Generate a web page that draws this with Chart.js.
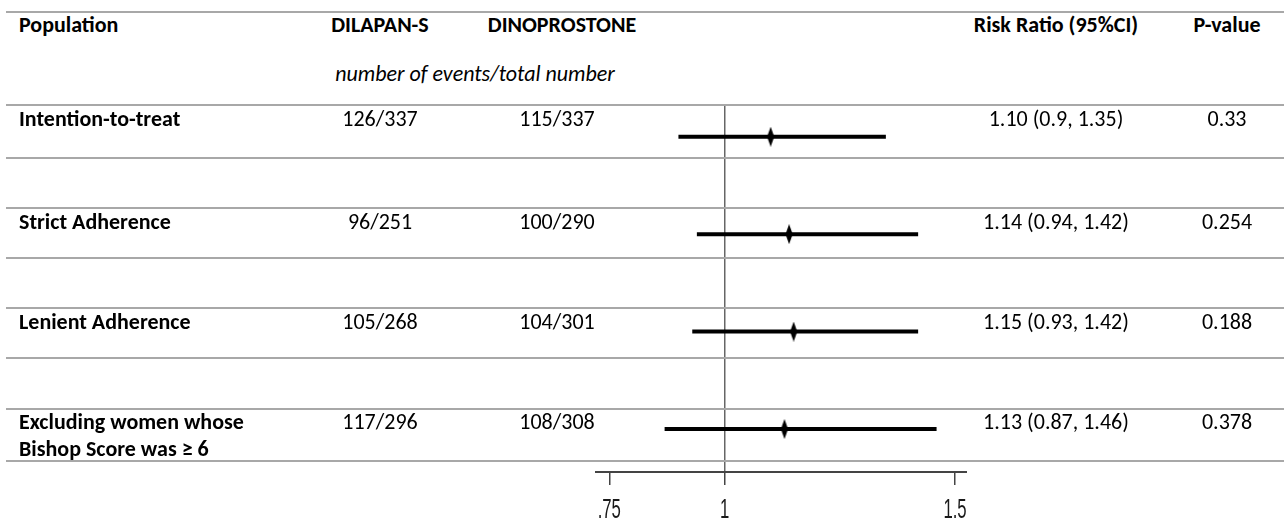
<!DOCTYPE html>
<html>
<head>
<meta charset="utf-8">
<script src="https://cdn.jsdelivr.net/npm/chart.js@4"></script>
<style>
  html, body { margin: 0; padding: 0; background: #fff; }
  #page { position: relative; width: 1284px; height: 527px; overflow: hidden;
          font-family: Carlito, Lato, "Noto Sans", sans-serif; font-size: 22px; color: #000; line-height: 26px; }
  .rule { position: absolute; left: 6px; right: 0; height: 2px; background: #a8a8a8; }
  .t { position: absolute; white-space: nowrap; }
  .b { font-weight: bold; }
  .c { width: 400px; text-align: center; }
  #plot { position: absolute; left: 595px; top: 104px; width: 372px; height: 423px; }
</style>
</head>
<body>
<div id="page">
  <div id="plot"><canvas id="forest" width="372" height="423"></canvas></div>
</div>
<script>
// rows of the table
const populations = ['Intention-to-treat', 'Strict Adherence', 'Lenient Adherence', 'Excluding women whose<br>Bishop Score was ≥ 6'];
const dilapan = ['126/337', '96/251', '105/268', '117/296'];
const dinoprostone = ['115/337', '100/290', '104/301', '108/308'];
const riskRatio = [1.10, 1.14, 1.15, 1.13];
const ciLow = [0.9, 0.94, 0.93, 0.87];
const ciHigh = [1.35, 1.42, 1.42, 1.46];
const pValues = ['0.33', '0.254', '0.188', '0.378'];
const tickValues = [0.75, 1, 1.5];
const tickLabels = ['.75', '1', '1.5'];

// table layout
const ruleY = [11, 104, 157, 207, 257, 307, 357, 408, 460];
const rowTextTop = [106, 209, 309, 409];

const page = document.getElementById('page');

function addText(html, left, top, cls) {
    const d = document.createElement('div');
    d.className = 't ' + (cls || '');
    d.style.left = left + 'px';
    d.style.top = top + 'px';
    d.innerHTML = html;
    page.appendChild(d);
    return d;
}

ruleY.forEach(y => {
    const r = document.createElement('div');
    r.className = 'rule';
    r.style.top = y + 'px';
    page.appendChild(r);
});

addText('Population', 19, 12, 'b');
addText('DILAPAN-S', 380 - 200, 12, 'b c');
addText('DINOPROSTONE', 562 - 200, 12, 'b c');
addText('Risk Ratio (95%CI)', 1056 - 200, 12, 'b c');
addText('P-value', 1227 - 200, 12, 'b c');
addText('<i>number of events/total number</i>', 475 - 200, 61, 'c');

populations.forEach((p, i) => {
    const top = rowTextTop[i];
    addText(p, 19, top, 'b').style.lineHeight = '26.5px';
    addText(dilapan[i], 380 - 200, top, 'c');
    addText(dinoprostone[i], 557 - 200, top, 'c');
    addText(`${riskRatio[i].toFixed(2)} (${ciLow[i]}, ${ciHigh[i]})`, 1056 - 200, top, 'c');
    addText(pValues[i], 1227 - 200, top, 'c');
});

// thin vertical diamond for the point estimate
const diamond = document.createElement('canvas');
diamond.width = 8;
diamond.height = 20;
const dc = diamond.getContext('2d');
dc.fillStyle = '#000';
dc.beginPath();
dc.moveTo(4, 0);
dc.lineTo(7.6, 10);
dc.lineTo(4, 20);
dc.lineTo(0.4, 10);
dc.closePath();
dc.fill();

const datasets = riskRatio.map((v, i) => ({
    data: [{x: ciLow[i], y: i}, {x: ciHigh[i], y: i}],
    showLine: true,
    borderColor: '#000',
    borderWidth: 4,
    borderCapStyle: 'butt',
    pointRadius: 0
}));
datasets.push({
    data: riskRatio.map((v, i) => ({x: v, y: i})),
    pointStyle: diamond,
    pointRadius: 10,
    showLine: false
});

const tickLabelPlugin = {
    id: 'narrowTicks',
    afterDraw(chart) {
        const xs = chart.scales.x;
        const ctx = chart.ctx;
        ctx.save();
        ctx.fillStyle = '#1a1a1a';
        ctx.font = '27px "Liberation Sans", Arial, sans-serif';
        ctx.textAlign = 'center';
        ctx.textBaseline = 'middle';
        tickValues.forEach((v, i) => {
            ctx.save();
            ctx.translate(xs.getPixelForValue(v), xs.top + 39);
            ctx.scale(0.62, 1);
            ctx.fillText(tickLabels[i], 0, 0);
            ctx.restore();
        });
        ctx.restore();
    }
};

new Chart(document.getElementById('forest').getContext('2d'), {
    type: 'scatter',
    data: {datasets: datasets},
    options: {
        responsive: false,
        animation: false,
        layout: {padding: 0, autoPadding: false},
        plugins: {legend: {display: false}, tooltip: {enabled: false}},
        scales: {
            x: {
                type: 'linear',
                min: 0.719,
                max: 1.526,
                afterBuildTicks: scale => { scale.ticks = tickValues.map(v => ({value: v})); },
                afterFit: scale => { scale.height = 55; },
                ticks: {display: false},
                grid: {
                    drawOnChartArea: true,
                    color: ctx => (ctx.tick && ctx.tick.value === 1) ? '#666' : 'rgba(0,0,0,0)',
                    lineWidth: 1.5,
                    tickLength: 13,
                    tickColor: '#444',
                    tickWidth: 1.5
                },
                border: {display: true, color: '#444', width: 2}
            },
            y: {
                type: 'linear',
                display: false,
                reverse: true,
                min: -0.336,
                max: 3.441
            }
        }
    },
    plugins: [tickLabelPlugin]
});
</script>
</body>
</html>
